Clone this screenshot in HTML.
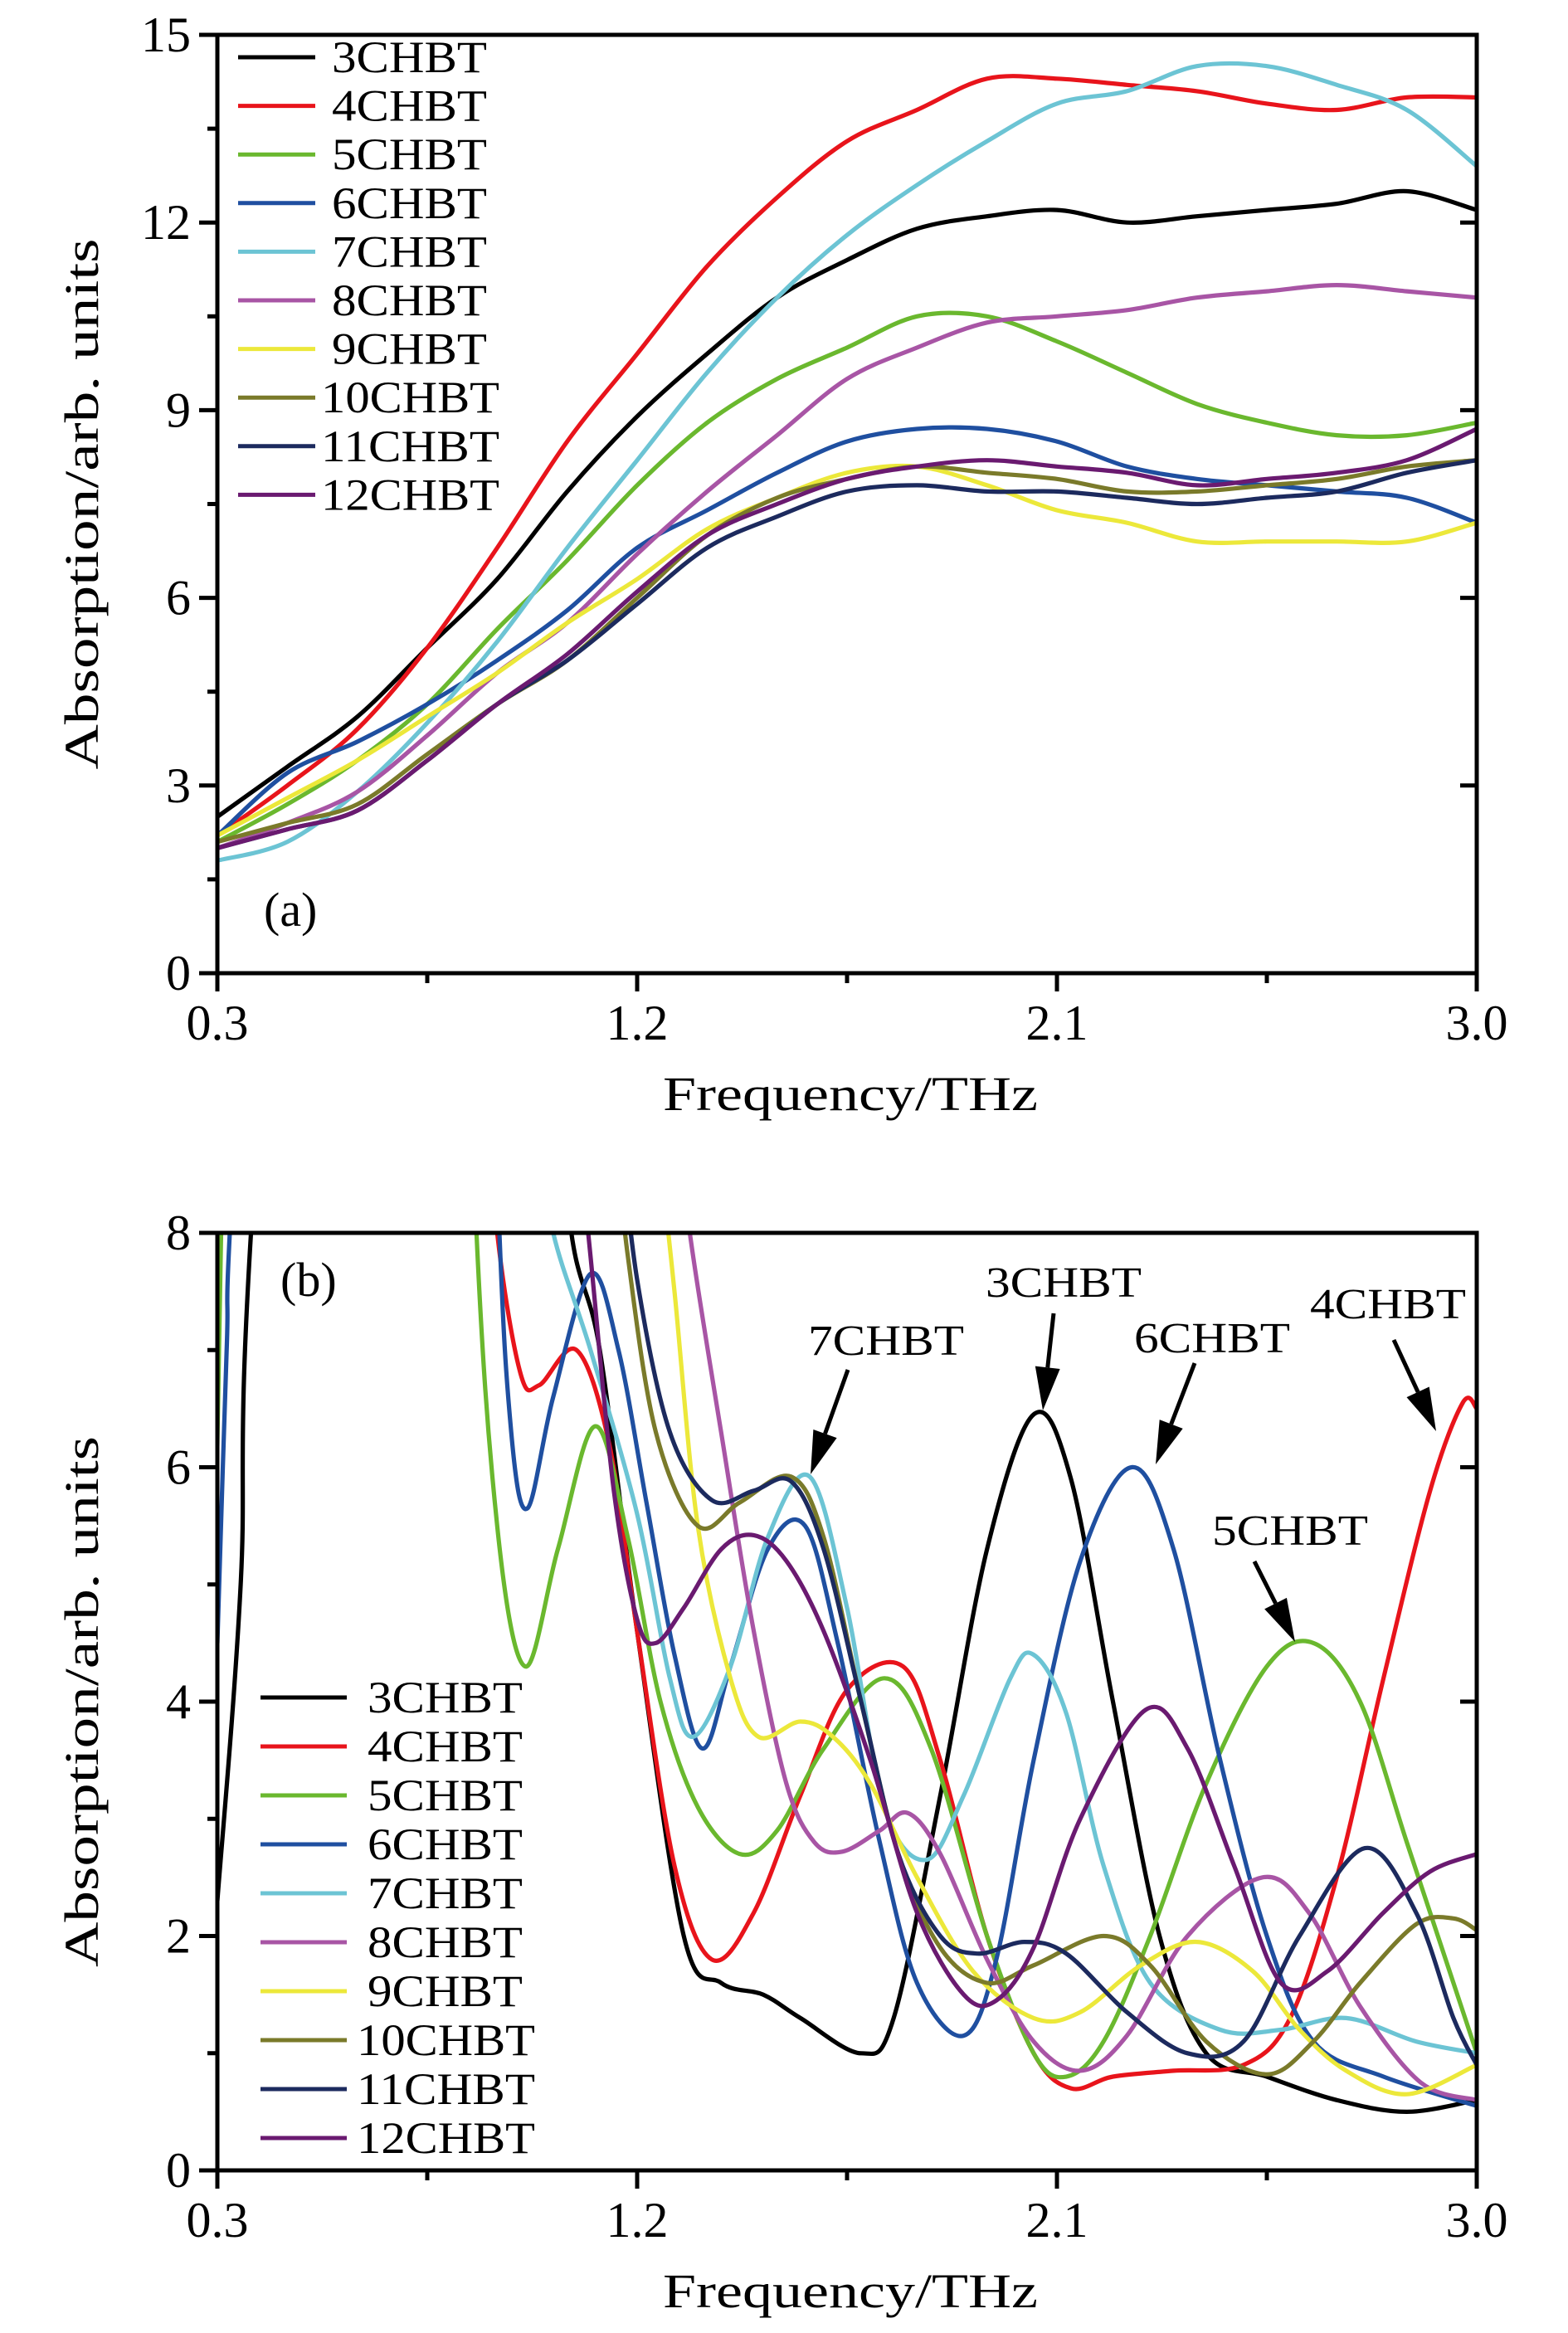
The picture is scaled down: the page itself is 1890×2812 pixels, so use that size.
<!DOCTYPE html>
<html><head><meta charset="utf-8"><style>
html,body{margin:0;padding:0;background:#fff;}
svg{display:block;}
text{font-family:"Liberation Serif",serif;fill:#000;}
</style></head><body>
<svg id="chart" width="1890" height="2812" viewBox="0 0 1890 2812" xmlns="http://www.w3.org/2000/svg">
<defs>
<clipPath id="clipA"><rect x="262" y="42" width="1518" height="1131"/></clipPath>
<clipPath id="clipB"><rect x="262" y="1486" width="1518" height="1130"/></clipPath>
</defs>
<g id="gA"></g>
<g id="gB"></g>
</svg>
<script>
const names = ["3CHBT","4CHBT","5CHBT","6CHBT","7CHBT","8CHBT","9CHBT","10CHBT","11CHBT","12CHBT"];
const colors = ["#000000","#e8141b","#6ab82e","#1f4fa0","#6cc4d4","#a855a5","#ece83a","#7a7a2a","#1c2a5e","#6a1a70"];
// Panel (a): common frequency grid
const freqA = [0.3,0.45,0.6,0.75,0.9,1.05,1.2,1.35,1.5,1.65,1.8,1.95,2.1,2.25,2.4,2.55,2.7,2.85,3.0];
const a3 = [2.5,3.3,4.1,5.2,6.3,7.7,8.9,9.9,10.8,11.4,11.9,12.1,12.2,12.0,12.1,12.2,12.3,12.5,12.2];
const a4 = [2.2,3.0,3.9,5.2,6.8,8.5,9.9,11.3,12.4,13.3,13.8,14.3,14.3,14.2,14.1,13.9,13.8,14.0,14.0];
const a5 = [2.1,2.7,3.4,4.3,5.5,6.6,7.8,8.8,9.5,10.0,10.5,10.5,10.1,9.6,9.1,8.8,8.6,8.6,8.8];
const a6 = [2.2,3.2,3.7,4.3,5.0,5.8,6.8,7.4,8.0,8.5,8.7,8.7,8.5,8.1,7.9,7.8,7.7,7.6,7.2];
const a7 = [1.8,2.1,2.9,4.0,5.3,6.8,8.2,9.6,10.8,11.8,12.6,13.3,13.9,14.1,14.5,14.5,14.2,13.8,12.9];
const a8 = [2.0,2.4,2.9,3.8,4.8,5.6,6.7,7.7,8.6,9.5,10.0,10.4,10.5,10.6,10.8,10.9,11.0,10.9,10.8];
const a9 = [2.2,2.8,3.4,4.1,4.8,5.6,6.3,7.1,7.6,8.0,8.1,7.8,7.4,7.2,6.9,6.9,6.9,6.9,7.2];
const a10 = [2.1,2.4,2.7,3.5,4.3,5.0,6.0,7.0,7.6,7.9,8.1,8.0,7.9,7.7,7.7,7.8,7.9,8.1,8.2];
const a11 = [2.0,2.3,2.6,3.4,4.3,5.0,5.9,6.8,7.3,7.7,7.8,7.7,7.7,7.6,7.5,7.6,7.7,8.0,8.2];
const a12 = [2.0,2.3,2.6,3.4,4.3,5.1,6.1,7.0,7.5,7.9,8.1,8.2,8.1,8.0,7.8,7.9,8.0,8.2,8.7];
const seriesA = [a3,a4,a5,a6,a7,a8,a9,a10,a11,a12];
// Panel (b): per-series frequencies and values (values above 8 are clipped off the top)
const fb3 = [0.3,0.35,0.38,0.6,1.0,1.05,1.12,1.2,1.3,1.38,1.47,1.55,1.68,1.75,1.85,1.95,2.05,2.13,2.22,2.32,2.42,2.55,2.7,2.85,3.0];
const vb3 = [2.3,5,8.5,20,12,8.3,7,4.6,2.0,1.6,1.5,1.3,1.0,1.3,3.2,5.3,6.45,5.9,4.0,2.0,1.0,0.8,0.6,0.5,0.6];
const fb4 = [0.86,0.9,0.95,0.99,1.07,1.14,1.2,1.28,1.36,1.45,1.55,1.65,1.77,1.85,1.95,2.05,2.13,2.22,2.35,2.5,2.6,2.7,2.8,2.9,2.97,3.0];
const vb4 = [10,8,6.8,6.7,7.0,6.2,4.6,2.6,1.8,2.2,3.2,4.1,4.3,3.5,2.0,1.0,0.7,0.8,0.85,0.9,1.3,2.5,4.2,5.8,6.55,6.5];
const fb5 = [0.29,0.31,0.33,0.8,0.85,0.9,0.96,1.03,1.11,1.18,1.25,1.33,1.42,1.5,1.6,1.73,1.83,1.95,2.05,2.12,2.2,2.3,2.42,2.55,2.65,2.75,2.85,2.95,3.0];
const vb5 = [4,8.5,15,15,8.5,5.5,4.3,5.3,6.35,5.4,4.0,3.1,2.7,2.9,3.6,4.2,3.6,2.0,1.0,0.8,1.1,2.0,3.3,4.3,4.5,4.0,2.8,1.6,1.0];
const fb6 = [0.3,0.32,0.34,0.5,0.85,0.9,0.93,0.965,1.02,1.1,1.16,1.22,1.28,1.34,1.4,1.48,1.56,1.63,1.72,1.8,1.9,1.97,2.05,2.15,2.26,2.35,2.45,2.55,2.65,2.8,3.0];
const vb6 = [4.5,7,9,20,15,8.5,6.3,5.65,6.6,7.65,7.0,5.7,4.4,3.6,4.3,5.3,5.5,4.5,2.8,1.6,1.15,1.8,3.5,5.2,6.0,5.3,3.5,2.0,1.1,0.8,0.55];
const fb7 = [0.98,1.02,1.1,1.2,1.27,1.32,1.4,1.48,1.57,1.65,1.73,1.82,1.9,2.0,2.05,2.12,2.2,2.3,2.45,2.58,2.72,2.87,3.0];
const vb7 = [9,8,7.0,5.6,4.2,3.7,4.3,5.4,5.92,4.8,3.1,2.65,3.2,4.2,4.4,3.9,2.6,1.6,1.2,1.2,1.3,1.1,1.0];
const fb8 = [1.28,1.32,1.38,1.45,1.52,1.58,1.64,1.72,1.78,1.85,1.95,2.05,2.15,2.25,2.38,2.54,2.64,2.75,2.88,3.0];
const vb8 = [9,7.8,6.3,4.6,3.3,2.8,2.72,2.9,3.05,2.7,1.8,1.1,0.85,1.15,2.0,2.5,2.2,1.4,0.75,0.6];
const fb9 = [1.24,1.28,1.33,1.4,1.46,1.55,1.62,1.7,1.8,1.92,2.05,2.15,2.28,2.4,2.52,2.62,2.72,2.85,3.0];
const vb9 = [9,7.5,5.5,4.2,3.7,3.83,3.7,3.3,2.5,1.7,1.3,1.35,1.75,1.95,1.7,1.2,0.85,0.65,0.9];
const fb10 = [1.15,1.18,1.24,1.33,1.42,1.53,1.6,1.68,1.76,1.85,1.95,2.05,2.2,2.3,2.42,2.55,2.65,2.75,2.87,2.95,3.0];
const vb10 = [9,7.8,6.3,5.5,5.7,5.92,5.4,4.0,2.7,1.9,1.6,1.75,2.0,1.75,1.1,0.82,1.1,1.6,2.1,2.15,2.05];
const fb11 = [1.16,1.2,1.27,1.36,1.45,1.53,1.6,1.68,1.76,1.85,1.93,2.03,2.12,2.25,2.38,2.5,2.62,2.76,2.87,2.95,3.0];
const vb11 = [9,7.6,6.3,5.72,5.8,5.88,5.3,4.0,2.7,2.0,1.85,1.95,1.85,1.35,1.0,1.1,2.0,2.75,2.2,1.3,0.9];
const fb12 = [1.07,1.1,1.15,1.2,1.24,1.3,1.38,1.45,1.52,1.6,1.7,1.8,1.9,1.97,2.05,2.15,2.29,2.38,2.48,2.58,2.68,2.8,2.9,3.0];
const vb12 = [9,7.8,5.8,4.7,4.5,4.8,5.3,5.42,5.2,4.6,3.5,2.2,1.5,1.45,1.9,3.0,3.93,3.6,2.6,1.6,1.7,2.2,2.55,2.7];
const freqB = [fb3,fb4,fb5,fb6,fb7,fb8,fb9,fb10,fb11,fb12];
const seriesB = [vb3,vb4,vb5,vb6,vb7,vb8,vb9,vb10,vb11,vb12];
const xTicks = [0.3,1.2,2.1,3.0];
const xTickLabels = ["0.3","1.2","2.1","3.0"];
const yTicksA = [0,3,6,9,12,15];
const yTicksB = [0,2,4,6,8];
const annLabels = ["7CHBT","3CHBT","6CHBT","4CHBT","5CHBT"];

const NS = "http://www.w3.org/2000/svg";
const L = 262, R = 1780;
function xs(f){ return L + (f - 0.3) / 2.7 * (R - L); }
function mk(tag, attrs, parent){ const e = document.createElementNS(NS, tag); for (const k in attrs) e.setAttribute(k, attrs[k]); parent.appendChild(e); return e; }
function smooth(pts){
  let d = "M" + pts[0][0].toFixed(1) + "," + pts[0][1].toFixed(1);
  for (let i = 0; i < pts.length - 1; i++) {
    const p0 = pts[Math.max(0,i-1)], p1 = pts[i], p2 = pts[i+1], p3 = pts[Math.min(pts.length-1,i+2)];
    const c1x = p1[0] + (p2[0]-p0[0])/6, c1y = p1[1] + (p2[1]-p0[1])/6;
    const c2x = p2[0] - (p3[0]-p1[0])/6, c2y = p2[1] - (p3[1]-p1[1])/6;
    d += "C" + c1x.toFixed(1) + "," + c1y.toFixed(1) + " " + c2x.toFixed(1) + "," + c2y.toFixed(1) + " " + p2[0].toFixed(1) + "," + p2[1].toFixed(1);
  }
  return d;
}

function panel(g, T, B, ymax, yTicks, minorStep, clipId, label, labelPos, fx, series, legend) {
  const ys = v => B - v / ymax * (B - T);
  const lines = mk("g", {"clip-path": "url(#" + clipId + ")"}, g);
  
  
  series.forEach((vals, i) => {
    const fr = Array.isArray(fx[0]) ? fx[i] : fx;
    const pts = vals.map((v, j) => [xs(fr[j]), ys(v)]);
    const p = mk("path", {d: smooth(pts), fill: "none", stroke: colors[i], "stroke-width": 5.2, "stroke-linejoin": "round"}, lines);
    
    
  });
  const fr = mk("rect", {x: L, y: T, width: R - L, height: B - T, fill: "none", stroke: "#000", "stroke-width": 5}, g);
  
  
  xTicks.forEach((t, i) => {
    mk("line", {x1: xs(t), x2: xs(t), y1: B, y2: B + 22, stroke: "#000", "stroke-width": 5}, g);
    const tx = mk("text", {x: xs(t), y: B + 80, "text-anchor": "middle", "font-size": 60}, g);
    tx.textContent = xTickLabels[i];
    
    
    if (i < xTicks.length - 1) {
      const m = (t + xTicks[i+1]) / 2;
      mk("line", {x1: xs(m), x2: xs(m), y1: B, y2: B + 12, stroke: "#000", "stroke-width": 5}, g);
    }
  });
  for (let v = 0; v <= ymax + 1e-6; v += minorStep) {
    const major = yTicks.some(t => Math.abs(t - v) < 1e-6);
    mk("line", {x1: L - (major ? 22 : 12), x2: L, y1: ys(v), y2: ys(v), stroke: "#000", "stroke-width": 5}, g);
    if (major) mk("line", {x1: R - 20, x2: R, y1: ys(v), y2: ys(v), stroke: "#000", "stroke-width": 5}, g);
  }
  yTicks.forEach(t => {
    const tx = mk("text", {x: 230, y: ys(t) + 20, "text-anchor": "end", "font-size": 60}, g);
    tx.textContent = String(t);
    
    
  });
  const xt = mk("text", {x: (L + R) / 2 + 4, y: B + 165, "text-anchor": "middle", "font-size": 58, textLength: 452, lengthAdjust: "spacingAndGlyphs"}, g);
  xt.textContent = "Frequency/THz";
  
  
  const cy = (T + B) / 2;
  const yt = mk("text", {x: 0, y: 0, "text-anchor": "middle", "font-size": 58, textLength: 640, lengthAdjust: "spacingAndGlyphs", transform: "translate(118," + cy + ") rotate(-90)"}, g);
  yt.textContent = "Absorption/arb. units";
  
  
  const pl = mk("text", {x: labelPos[0], y: labelPos[1], "font-size": 58}, g);
  pl.textContent = label;
  
  
  const lg = mk("g", {}, g);
  
  
  names.forEach((n, i) => {
    const y = legend.y0 + i * legend.dy;
    const e = mk("g", {}, lg);
    
    
    mk("line", {x1: legend.x1, x2: legend.x2, y1: y, y2: y, stroke: colors[i], "stroke-width": 5}, e);
    const tx = mk("text", {x: n.length > 5 ? legend.tx - 13 : legend.tx, y: y + 18, "font-size": 54, textLength: n.length > 5 ? 215 : 187, lengthAdjust: "spacingAndGlyphs"}, e);
    tx.textContent = n;
  });
}

panel(document.getElementById("gA"), 42, 1173, 15, yTicksA, 1.5, "clipA", "(a)", [318, 1116], freqA, seriesA,
  {x1: 287, x2: 380, tx: 400, y0: 69, dy: 58.6});
panel(document.getElementById("gB"), 1486, 2616, 8, yTicksB, 1, "clipB", "(b)", [338, 1562], freqB, seriesB,
  {x1: 314, x2: 418, tx: 443, y0: 2046, dy: 59});

const annText = [[1068,1633],[1282,1563],[1461,1630],[1673,1589],[1555,1862]];
const annArrow = [[1022,1651,977,1777],[1270,1583,1257,1700],[1440,1643,1393,1765],[1680,1615,1731,1725],[1512,1882,1561,1979]];
const gB = document.getElementById("gB");
annLabels.forEach((s, i) => {
  const g = mk("g", {}, gB);
  
  
  const t = mk("text", {x: annText[i][0], y: annText[i][1], "text-anchor": "middle", "font-size": 52, textLength: 188, lengthAdjust: "spacingAndGlyphs"}, g);
  t.textContent = s;
  const [x1, y1, x2, y2] = annArrow[i];
  const dx = x2 - x1, dy = y2 - y1, len = Math.hypot(dx, dy), ux = dx / len, uy = dy / len;
  const hl = 52, hw = 15;
  const bx = x2 - ux * hl, by = y2 - uy * hl;
  mk("line", {x1: x1, y1: y1, x2: bx, y2: by, stroke: "#000", "stroke-width": 5}, g);
  mk("polygon", {points: x2 + "," + y2 + " " + (bx - uy * hw) + "," + (by + ux * hw) + " " + (bx + uy * hw) + "," + (by - ux * hw), fill: "#000"}, g);
});
</script>
</body></html>
